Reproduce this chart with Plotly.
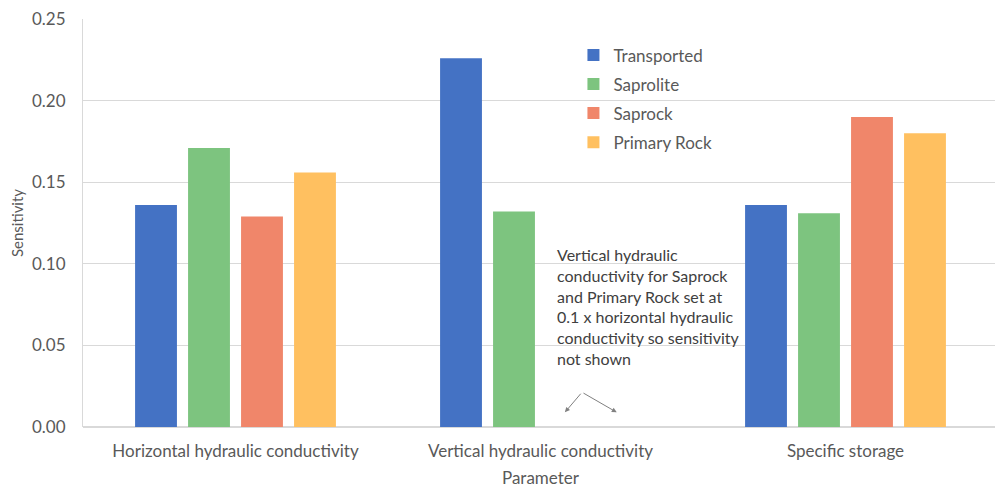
import plotly.graph_objects as go

categories = ["Horizontal hydraulic conductivity", "Vertical hydraulic conductivity", "Specific storage"]
transported = [0.136, 0.226, 0.136]
saprolite = [0.171, 0.132, 0.131]
saprock = [0.129, None, 0.190]
primary_rock = [0.156, None, 0.180]

series = [
    ("Transported", transported, "#4472C4"),
    ("Saprolite", saprolite, "#7DC47F"),
    ("Saprock", saprock, "#F0866A"),
    ("Primary Rock", primary_rock, "#FFC060"),
]

fig = go.Figure()
for name, vals, col in series:
    fig.add_trace(go.Bar(name=name, x=categories, y=vals, legendgroup=name,
                         marker=dict(color=col, line=dict(width=0))))

font_col = "#595959"
fs = 17
fig.update_layout(
    width=995, height=483,
    paper_bgcolor="white", plot_bgcolor="white",
    margin=dict(l=75, r=5, t=11, b=64, autoexpand=False),
    barmode="group", bargap=0.305, bargroupgap=0.21,
    font=dict(family="Lato, Open Sans, sans-serif", size=fs, color=font_col),
    legend=dict(x=0.536, y=0.955, xanchor="left", yanchor="top", bgcolor="rgba(0,0,0,0)",
                font=dict(size=fs, color=font_col), itemwidth=30, tracegroupgap=4),
    xaxis=dict(title=dict(text="Parameter", font=dict(size=fs, color=font_col), standoff=12),
               automargin=False, showgrid=False, ticks="", tickfont=dict(size=fs, color=font_col),
               ticklabelstandoff=12),
    yaxis=dict(title=dict(text="Sensitivity", font=dict(size=15, color=font_col), standoff=7),
               automargin=False, ticklabeloverflow="allow",
               range=[0, 0.25], dtick=0.05, tickformat=".2f", showgrid=True, gridcolor="#D9D9D9",
               gridwidth=1, zeroline=True, zerolinecolor="#D9D9D9", showline=True, linecolor="#D9D9D9",
               tickfont=dict(size=fs, color=font_col), ticks="", ticklabelstandoff=13),
)

fig.add_annotation(
    x=0.516, y=0.452, xref="paper", yref="paper", xanchor="left", yanchor="top", align="left",
    showarrow=False,
    text="Vertical hydraulic<br>conductivity for Saprock<br>and Primary Rock set at<br>0.1 x horizontal hydraulic<br>conductivity so sensitivity<br>not shown",
    font=dict(size=16, color="#404040"),
)
for tip_x in [1.08, 1.25]:
    fig.add_annotation(
        x=tip_x, y=0.009, xref="x", yref="y", ax=1.136, ay=0.0213, axref="x", ayref="y",
        text="", showarrow=True, arrowhead=2, arrowsize=1, arrowwidth=1, arrowcolor="#808080",
    )

fig.write_html("out.html")
